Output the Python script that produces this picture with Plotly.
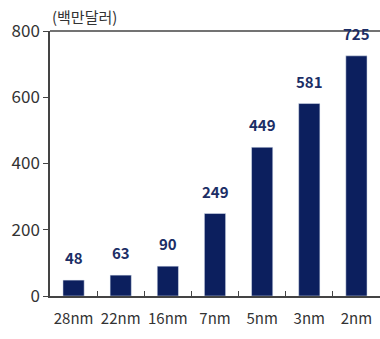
import plotly.graph_objects as go

# Foundry wafer design cost by process node (unit: million USD)
nodes = ["28nm", "22nm", "16nm", "7nm", "5nm", "3nm", "2nm"]
costs = [48, 63, 90, 249, 449, 581, 725]
y_ticks = [0, 200, 400, 600, 800]

bar_color = "#0c1f5e"
font_family = "Noto Sans CJK KR, Noto Sans, sans-serif"

fig = go.Figure(
    go.Bar(
        x=nodes,
        y=costs,
        marker_color=bar_color,
        width=0.45,
    )
)

# value labels floating above each bar
for node, val in zip(nodes, costs):
    fig.add_annotation(
        x=node,
        y=val,
        text=str(val),
        showarrow=False,
        yanchor="bottom",
        yshift=10,
        font=dict(family=font_family, size=15, color="#1c2e66", weight="bold"),
    )

fig.update_layout(
    width=380,
    height=339,
    margin=dict(l=50, r=0, t=31, b=43),
    plot_bgcolor="white",
    paper_bgcolor="white",
    showlegend=False,
    font=dict(family=font_family),
)

fig.update_xaxes(
    showline=True,
    linecolor="#444",
    linewidth=1.5,
    ticks="inside",
    tickson="boundaries",
    ticklen=5,
    tickcolor="#444",
    showgrid=False,
    tickangle=0,
    automargin=False,
    ticklabelstandoff=8,
    tickfont=dict(family=font_family, size=15, color="#333"),
)

fig.update_yaxes(
    range=[0, 800],
    tickvals=y_ticks,
    showline=True,
    linecolor="#444",
    linewidth=1.5,
    ticks="outside",
    ticklen=5,
    tickcolor="#444",
    showgrid=False,
    zeroline=False,
    automargin=False,
    tickfont=dict(family=font_family, size=17, color="#333"),
)

# top border of the plot box
fig.add_shape(
    type="line",
    xref="paper",
    yref="paper",
    x0=0,
    x1=1,
    y0=1,
    y1=1,
    line=dict(color="#444", width=1.5),
)

fig.add_annotation(
    text="(백만달러)",
    xref="paper",
    yref="paper",
    x=0,
    y=1,
    xanchor="left",
    yanchor="bottom",
    yshift=2,
    showarrow=False,
    font=dict(family=font_family, size=15, color="#333"),
)

fig.write_html("out.html")
